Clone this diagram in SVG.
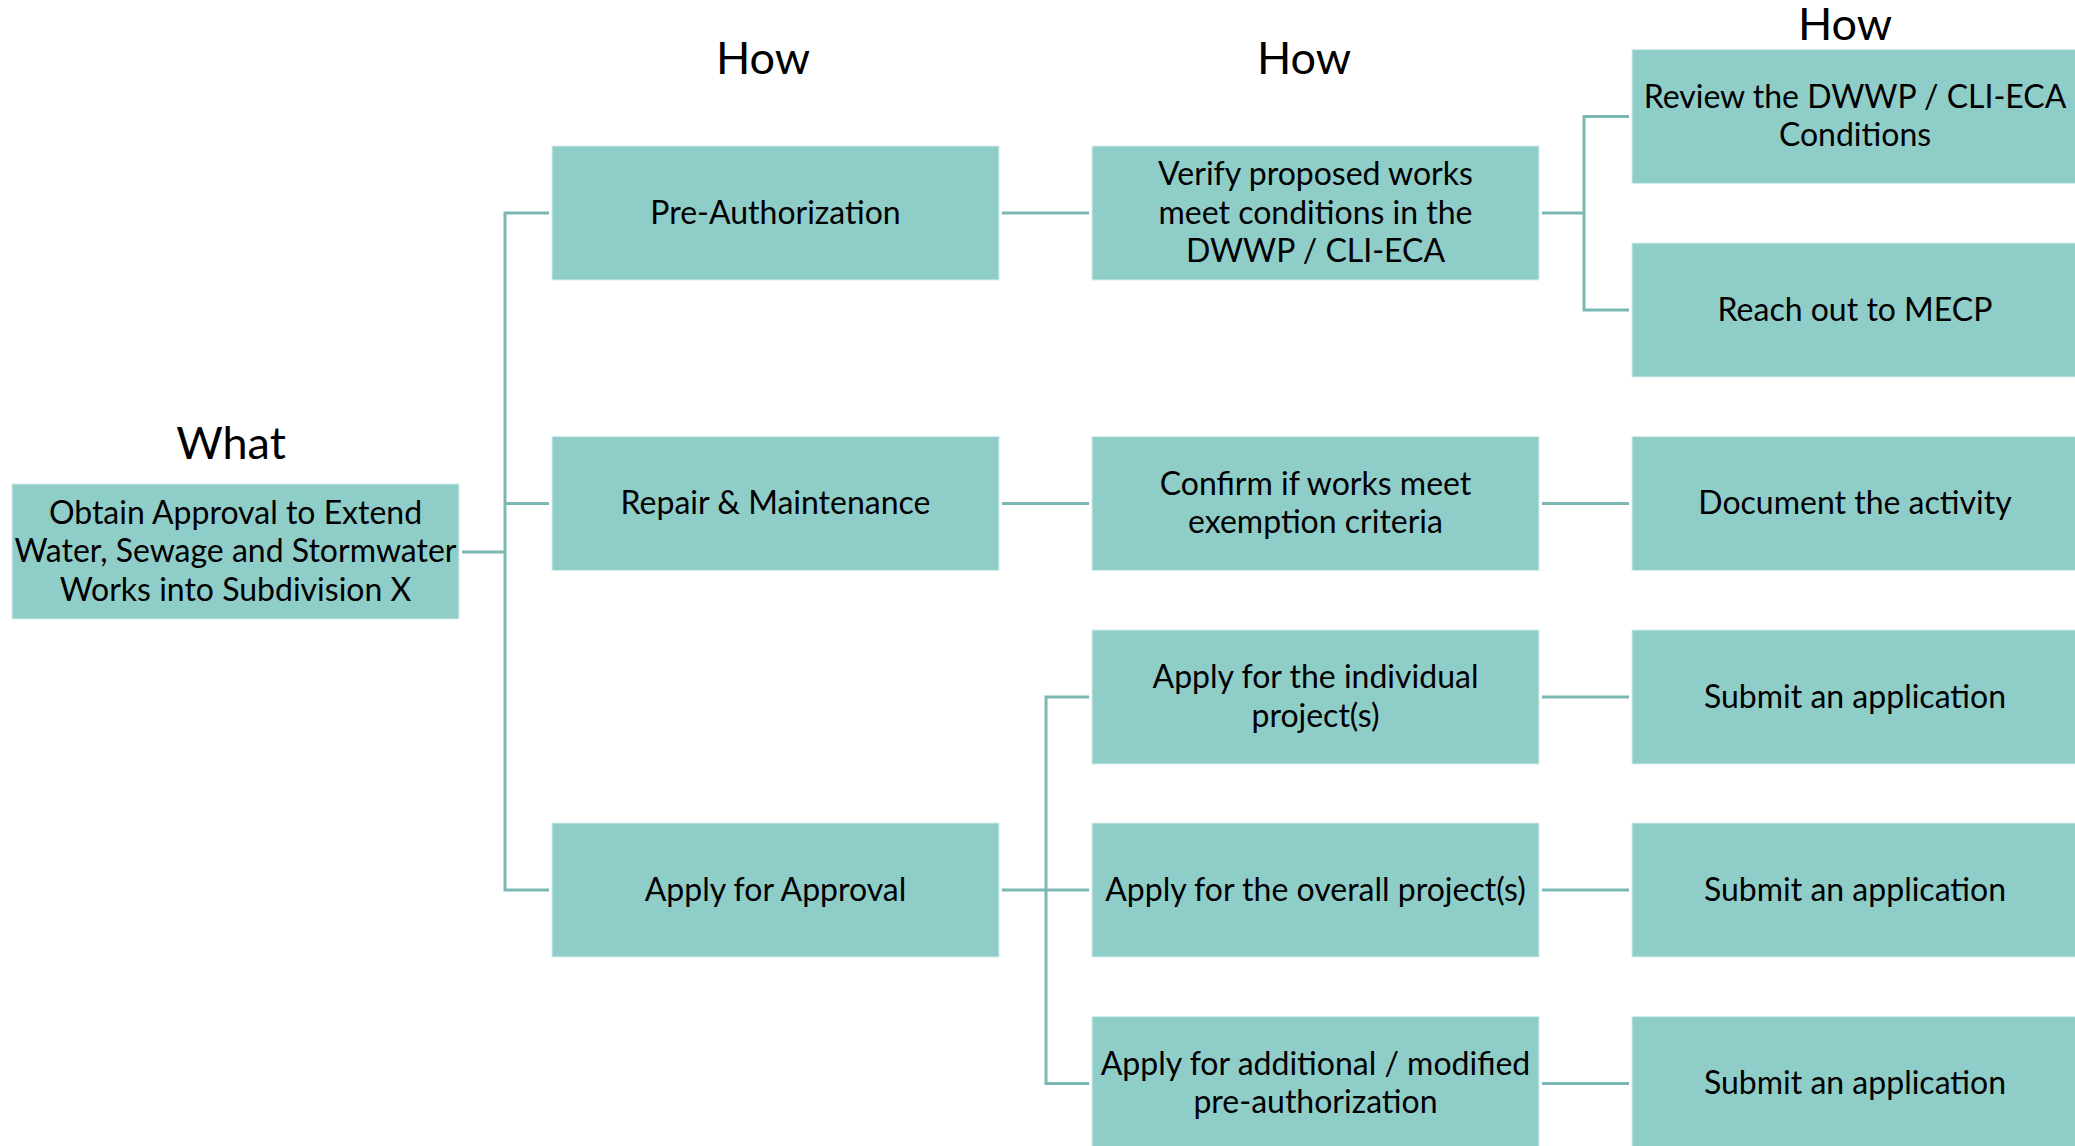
<svg xmlns="http://www.w3.org/2000/svg" width="2075" height="1146" viewBox="0 0 2075 1146">
<style>
.box{fill:#8fcdc9;stroke:#d6eeec;stroke-width:1}
.t{font-family:Lato,"Liberation Sans",sans-serif;font-size:32px;fill:#000;text-anchor:middle;dominant-baseline:central}
.h{font-family:Lato,"Liberation Sans",sans-serif;font-size:45px;fill:#000;text-anchor:middle;dominant-baseline:central}
.c{fill:none;stroke:#7bb8b4;stroke-width:3}
</style>
<rect width="2075" height="1146" fill="#fff"/>
<text class="h" x="231" y="442">What</text>
<text class="h" x="763" y="57">How</text>
<text class="h" x="1304" y="57">How</text>
<text class="h" x="1845" y="23">How</text>
<g id="connectors">
<path class="c" d="M462 552H505M549 213H505V890H549M505 503.5H549"/>
<path class="c" d="M1002 213H1089M1002 503.5H1089M1002 890H1089"/>
<path class="c" d="M1089 697H1046V1083.5H1089"/>
<path class="c" d="M1542 213H1584M1629 116.5H1584V310H1629"/>
<path class="c" d="M1542 503.5H1629M1542 697H1629M1542 890H1629M1542 1083.5H1629"/>
</g>
<g transform="translate(0,-2)">
<g id="what"><rect class="box" x="12" y="486" width="447" height="135"/>
<text class="t" x="235.5" y="513">Obtain Approval to Extend</text>
<text class="t" x="235.5" y="551.5">Water, Sewage and Stormwater</text>
<text class="t" x="235.5" y="590">Works into Subdivision X</text></g>
<g id="pre-auth"><rect class="box" x="552" y="148" width="447" height="134"/>
<text class="t" x="775.5" y="213">Pre-Authorization</text></g>
<g id="repair"><rect class="box" x="552" y="438.5" width="447" height="134"/>
<text class="t" x="775.5" y="503.5">Repair &amp; Maintenance</text></g>
<g id="apply-approval"><rect class="box" x="552" y="825" width="447" height="134"/>
<text class="t" x="775.5" y="890">Apply for Approval</text></g>
<g id="verify"><rect class="box" x="1092" y="148" width="447" height="134"/>
<text class="t" x="1315.5" y="174.5">Verify proposed works</text>
<text class="t" x="1315.5" y="213">meet conditions in the</text>
<text class="t" x="1315.5" y="251.5">DWWP / CLI-ECA</text></g>
<g id="confirm"><rect class="box" x="1092" y="438.5" width="447" height="134"/>
<text class="t" x="1315.5" y="484.3">Confirm if works meet</text>
<text class="t" x="1315.5" y="522.7">exemption criteria</text></g>
<g id="individual"><rect class="box" x="1092" y="632" width="447" height="134"/>
<text class="t" x="1315.5" y="677.8">Apply for the individual</text>
<text class="t" x="1315.5" y="716.2">project(s)</text></g>
<g id="overall"><rect class="box" x="1092" y="825" width="447" height="134"/>
<text class="t" x="1315.5" y="890">Apply for the overall project(s)</text></g>
<g id="additional"><rect class="box" x="1092" y="1018.5" width="447" height="134"/>
<text class="t" x="1315.5" y="1064.3">Apply for additional / modified</text>
<text class="t" x="1315.5" y="1102.7">pre-authorization</text></g>
<g id="review"><rect class="box" x="1632" y="51.5" width="447" height="134"/>
<text class="t" x="1855" y="97.3">Review the DWWP / CLI-ECA</text>
<text class="t" x="1855" y="135.7">Conditions</text></g>
<g id="reach"><rect class="box" x="1632" y="245" width="447" height="134"/>
<text class="t" x="1855" y="310">Reach out to MECP</text></g>
<g id="document"><rect class="box" x="1632" y="438.5" width="447" height="134"/>
<text class="t" x="1855" y="503.5">Document the activity</text></g>
<g id="submit1"><rect class="box" x="1632" y="632" width="447" height="134"/>
<text class="t" x="1855" y="697">Submit an application</text></g>
<g id="submit2"><rect class="box" x="1632" y="825" width="447" height="134"/>
<text class="t" x="1855" y="890">Submit an application</text></g>
<g id="submit3"><rect class="box" x="1632" y="1018.5" width="447" height="134"/>
<text class="t" x="1855" y="1083.5">Submit an application</text></g>
</g>
</svg>
